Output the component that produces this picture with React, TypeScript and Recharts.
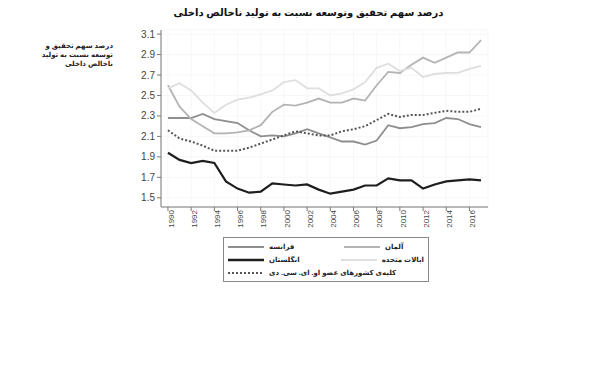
import React from "react";
import { LineChart, Line, XAxis, YAxis, CartesianGrid } from "recharts";

const years = [
  1990, 1991, 1992, 1993, 1994, 1995, 1996, 1997, 1998, 1999, 2000, 2001, 2002, 2003,
  2004, 2005, 2006, 2007, 2008, 2009, 2010, 2011, 2012, 2013, 2014, 2015, 2016, 2017,
];
const france = [2.28, 2.28, 2.28, 2.32, 2.27, 2.25, 2.23, 2.16, 2.1, 2.11, 2.1, 2.13, 2.17, 2.13, 2.09, 2.05, 2.05, 2.02, 2.06, 2.21, 2.18, 2.19, 2.22, 2.23, 2.28, 2.27, 2.22, 2.19];
const germany = [2.6, 2.39, 2.27, 2.2, 2.13, 2.13, 2.14, 2.16, 2.21, 2.34, 2.41, 2.4, 2.43, 2.47, 2.43, 2.43, 2.47, 2.45, 2.6, 2.73, 2.72, 2.8, 2.87, 2.82, 2.87, 2.92, 2.92, 3.04];
const uk = [1.94, 1.87, 1.84, 1.86, 1.84, 1.66, 1.59, 1.55, 1.56, 1.64, 1.63, 1.62, 1.63, 1.58, 1.54, 1.56, 1.58, 1.62, 1.62, 1.69, 1.67, 1.67, 1.59, 1.63, 1.66, 1.67, 1.68, 1.67];
const us = [2.57, 2.62, 2.55, 2.43, 2.33, 2.41, 2.46, 2.48, 2.51, 2.55, 2.63, 2.65, 2.57, 2.57, 2.5, 2.52, 2.56, 2.63, 2.77, 2.81, 2.74, 2.77, 2.68, 2.71, 2.72, 2.72, 2.76, 2.79];
const oecd = [2.16, 2.08, 2.05, 2.01, 1.96, 1.96, 1.96, 1.99, 2.03, 2.07, 2.11, 2.15, 2.13, 2.11, 2.11, 2.15, 2.17, 2.2, 2.26, 2.32, 2.29, 2.31, 2.31, 2.33, 2.35, 2.34, 2.34, 2.37];

const xTicks = [1990, 1992, 1994, 1996, 1998, 2000, 2002, 2004, 2006, 2008, 2010, 2012, 2014, 2016];
const yTicks = [1.5, 1.7, 1.9, 2.1, 2.3, 2.5, 2.7, 2.9, 3.1];

const title = "درصد سهم  تحقیق وتوسعه نسبت به تولید ناخالص داخلی";
const yLabel = ["درصد سهم  تحقیق و", "توسعه نسبت به تولید", "ناخالص داخلی"];

const names = {
  france: "فرانسه",
  germany: "آلمان",
  uk: "انگلستان",
  us: "ایالات متحده",
  oecd: "کلیه‌ی کشورهای عضو او. ای. سی. دی",
};

const data = years.map((y, i) => ({
  year: y,
  france: france[i],
  germany: germany[i],
  uk: uk[i],
  us: us[i],
  oecd: oecd[i],
}));

const FONT = "'Liberation Sans', 'DejaVu Sans', sans-serif";

const styles = {
  france: { stroke: "#8e8e8e", width: 1.8, dash: undefined },
  germany: { stroke: "#b4b4b4", width: 1.8, dash: undefined },
  uk: { stroke: "#1e1e1e", width: 2.2, dash: undefined },
  us: { stroke: "#dedede", width: 1.8, dash: undefined },
  oecd: { stroke: "#555555", width: 2, dash: "2 2" },
} as const;

function LegendItem({ k }: { k: keyof typeof styles }) {
  const s = styles[k];
  return (
    <div style={{ display: "flex", alignItems: "center", height: 13, whiteSpace: "nowrap" }}>
      <svg width={36} height={6} style={{ marginRight: 5 }}>
        <line x1={0} x2={36} y1={3} y2={3} stroke={s.stroke} strokeWidth={k === "uk" ? 2.6 : 1.8} strokeDasharray={s.dash} />
      </svg>
      <span style={{ fontSize: 7, fontWeight: "bold", color: "#222", direction: "rtl" }}>{names[k]}</span>
    </div>
  );
}

function LegendBox() {
  return (
    <div
      style={{
        position: "absolute",
        left: 223,
        top: 237,
        width: 206,
        height: 45,
        border: "1px solid #888",
        boxSizing: "border-box",
        padding: "2px 4px",
        fontFamily: FONT,
        background: "#fff",
      }}
    >
      <div style={{ display: "flex" }}>
        <div style={{ width: 116 }}><LegendItem k="france" /></div>
        <LegendItem k="germany" />
      </div>
      <div style={{ display: "flex" }}>
        <div style={{ width: 116 }}><LegendItem k="uk" /></div>
        <LegendItem k="us" />
      </div>
      <LegendItem k="oecd" />
    </div>
  );
}

export default function App() {
  return (
    <div style={{ position: "absolute", left: 0, top: 0, width: 605, height: 369, background: "#fff", fontFamily: FONT }}>
      <div
        style={{
          position: "absolute",
          left: 0,
          width: 605,
          top: 7,
          textAlign: "center",
          fontSize: 10,
          fontWeight: "bold",
          direction: "rtl",
          color: "#111",
          paddingLeft: 12,
          boxSizing: "border-box",
        }}
      >
        {title}
      </div>
      <div
        style={{
          position: "absolute",
          left: 40,
          width: 73,
          top: 41,
          textAlign: "right",
          fontSize: 7,
          lineHeight: "9px",
          fontWeight: "bold",
          direction: "rtl",
          color: "#222",
        }}
      >
        {yLabel.map((l) => (
          <div key={l}>{l}</div>
        ))}
      </div>
      <LineChart width={605} height={369} data={data} margin={{ top: 30, right: 117, bottom: 132, left: 111 }}>
        <CartesianGrid stroke="#f5f5f5" strokeWidth={0.8} />
        <XAxis
          dataKey="year"
          type="number"
          domain={[1989.4, 2017.6]}
          ticks={xTicks}
          allowDataOverflow
          height={30}
          angle={-90}
          textAnchor="end"
          tickSize={4}
          stroke="#777"
          tick={{ fontSize: 8, fill: "#444", dy: -3 }}
          interval={0}
        />
        <YAxis
          type="number"
          domain={[1.41, 3.14]}
          ticks={yTicks}
          allowDataOverflow
          interval={0}
          width={50}
          tickSize={4}
          stroke="#777"
          tickFormatter={(v: number) => v.toFixed(1)}
          tick={{ fontSize: 10, fill: "#444" }}
        />
        {(Object.keys(styles) as (keyof typeof styles)[]).map((k) => (
          <Line
            key={k}
            type="linear"
            dataKey={k}
            name={names[k]}
            stroke={styles[k].stroke}
            strokeWidth={styles[k].width}
            strokeDasharray={styles[k].dash}
            dot={false}
            isAnimationActive={false}
          />
        ))}
      </LineChart>
      <LegendBox />
    </div>
  );
}
